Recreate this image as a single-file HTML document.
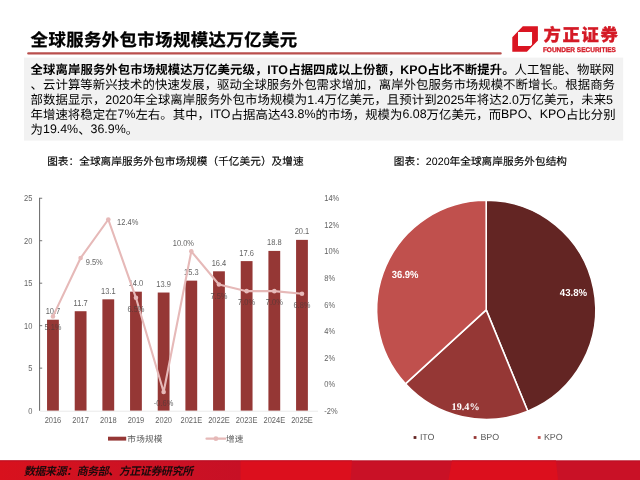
<!DOCTYPE html>
<html lang="zh-CN">
<head>
<meta charset="utf-8">
<title>全球服务外包市场规模达万亿美元</title>
<style>
html,body{margin:0;padding:0;background:#fff;}
body{width:640px;height:480px;overflow:hidden;position:relative;font-family:"Liberation Sans",sans-serif;}
svg{position:absolute;left:0;top:0;display:block;font-family:"Liberation Sans",sans-serif;will-change:transform;}
text{text-rendering:geometricPrecision;}
</style>
</head>
<body>
<svg width="640" height="480" viewBox="0 0 640 480">
<title>全球服务外包市场规模达万亿美元</title>
<desc>全球离岸服务外包市场规模达万亿美元级，ITO占据四成以上份额，KPO占比不断提升。人工智能、物联网、云计算等新兴技术的快速发展，驱动全球服务外包需求增加，离岸外包服务市场规模不断增长。根据商务部数据显示，2020年全球离岸服务外包市场规模为1.4万亿美元，且预计到2025年将达2.0万亿美元，未来5年增速将稳定在7%左右。其中，ITO占据高达43.8%的市场，规模为6.08万亿美元，而BPO、KPO占比分别为19.4%、36.9%。 图表：全球离岸服务外包市场规模（千亿美元）及增速 图表：2020年全球离岸服务外包结构 市场规模 增速 数据来源：商务部、方正证券研究所 方正证券</desc>
<defs>
<linearGradient id="fg" gradientUnits="userSpaceOnUse" x1="0" y1="0" x2="240" y2="0"><stop offset="0" stop-color="#d8111d"/><stop offset="0.45" stop-color="#cf1222"/><stop offset="1" stop-color="#c71025"/></linearGradient>
</defs>
<!-- frame: title rule, text panel, logo mark, footer band -->
<rect x="24" y="57.6" width="599.2" height="83" fill="#f2f2f2"/>
<path d="M28.3 53.4H500.6" stroke="#b94f4d" stroke-width="2.3" stroke-linecap="round"/>
<path d="M522.8 26.3H537.9V40.6L526.9 51.7H512.3V37.3Z M518 32V46.05H530.6L532.05 44.6V32Z" fill="#da1522" fill-rule="evenodd"/>
<text x="542.9" y="51.8" font-size="6.8" font-weight="bold" fill="#d41a26" stroke="#d41a26" stroke-width="0.3" textLength="73" lengthAdjust="spacingAndGlyphs">FOUNDER SECURITIES</text>
<rect x="0" y="460.4" width="640" height="19.6" fill="#c91126"/>
<path d="M0 460.4H240.6V480H0Z" fill="url(#fg)"/>
<path d="M240.6 460.4H352L350.5 480H240.6Z M452 460.4H556L558 480H448.5Z" fill="#dc0f1d"/>
<path d="M0 460.9H640" stroke="#a8142a" stroke-opacity=".55" stroke-width="0.9"/>
<!-- left chart: bars + growth line -->
<g font-size="8.6" fill="#636363">
<path d="M39.6 197.8V410.8" stroke="#666" stroke-width="1" fill="none"/>
<path d="M40.1 411.2H318" stroke="#e8e8e8" stroke-width="0.9" fill="none"/>
<text transform="translate(32.3 413.7) scale(0.87 1)" text-anchor="end">0</text>
<path d="M39.6 368.13h2.6" stroke="#666" stroke-width="0.9"/>
<text transform="translate(32.3 371.23) scale(0.87 1)" text-anchor="end">5</text>
<path d="M39.6 325.66h2.6" stroke="#666" stroke-width="0.9"/>
<text transform="translate(32.3 328.76) scale(0.87 1)" text-anchor="end">10</text>
<path d="M39.6 283.19h2.6" stroke="#666" stroke-width="0.9"/>
<text transform="translate(32.3 286.29) scale(0.87 1)" text-anchor="end">15</text>
<path d="M39.6 240.72h2.6" stroke="#666" stroke-width="0.9"/>
<text transform="translate(32.3 243.82) scale(0.87 1)" text-anchor="end">20</text>
<path d="M39.6 198.25h2.6" stroke="#666" stroke-width="0.9"/>
<text transform="translate(32.3 201.35) scale(0.87 1)" text-anchor="end">25</text>
<text transform="translate(324.3 413.7) scale(0.87 1)">-2%</text>
<text transform="translate(324.3 387.16) scale(0.87 1)">0%</text>
<text transform="translate(324.3 360.62) scale(0.87 1)">2%</text>
<text transform="translate(324.3 334.08) scale(0.87 1)">4%</text>
<text transform="translate(324.3 307.54) scale(0.87 1)">6%</text>
<text transform="translate(324.3 281) scale(0.87 1)">8%</text>
<text transform="translate(324.3 254.46) scale(0.87 1)">10%</text>
<text transform="translate(324.3 227.92) scale(0.87 1)">12%</text>
<text transform="translate(324.3 201.38) scale(0.87 1)">14%</text>
<rect x="47.05" y="319.71" width="11.8" height="90.89" fill="#953735"/>
<text transform="translate(52.95 314.21) scale(0.87 1)" text-anchor="middle">10.7</text>
<text transform="translate(52.95 423.2) scale(0.87 1)" text-anchor="middle">2016</text>
<rect x="74.72" y="311.22" width="11.8" height="99.38" fill="#953735"/>
<text transform="translate(80.62 305.72) scale(0.87 1)" text-anchor="middle">11.7</text>
<text transform="translate(80.62 423.2) scale(0.87 1)" text-anchor="middle">2017</text>
<rect x="102.39" y="299.33" width="11.8" height="111.27" fill="#953735"/>
<text transform="translate(108.29 293.83) scale(0.87 1)" text-anchor="middle">13.1</text>
<text transform="translate(108.29 423.2) scale(0.87 1)" text-anchor="middle">2018</text>
<rect x="130.06" y="291.68" width="11.8" height="118.92" fill="#953735"/>
<text transform="translate(135.96 286.18) scale(0.87 1)" text-anchor="middle">14.0</text>
<text transform="translate(135.96 423.2) scale(0.87 1)" text-anchor="middle">2019</text>
<rect x="157.73" y="292.53" width="11.8" height="118.07" fill="#953735"/>
<text transform="translate(163.63 287.03) scale(0.87 1)" text-anchor="middle">13.9</text>
<text transform="translate(163.63 423.2) scale(0.87 1)" text-anchor="middle">2020</text>
<rect x="185.4" y="280.64" width="11.8" height="129.96" fill="#953735"/>
<text transform="translate(191.3 275.14) scale(0.87 1)" text-anchor="middle">15.3</text>
<text transform="translate(191.3 423.2) scale(0.87 1)" text-anchor="middle">2021E</text>
<rect x="213.07" y="271.3" width="11.8" height="139.3" fill="#953735"/>
<text transform="translate(218.97 265.8) scale(0.87 1)" text-anchor="middle">16.4</text>
<text transform="translate(218.97 423.2) scale(0.87 1)" text-anchor="middle">2022E</text>
<rect x="240.74" y="261.11" width="11.8" height="149.49" fill="#953735"/>
<text transform="translate(246.64 255.61) scale(0.87 1)" text-anchor="middle">17.6</text>
<text transform="translate(246.64 423.2) scale(0.87 1)" text-anchor="middle">2023E</text>
<rect x="268.41" y="250.91" width="11.8" height="159.69" fill="#953735"/>
<text transform="translate(274.31 245.41) scale(0.87 1)" text-anchor="middle">18.8</text>
<text transform="translate(274.31 423.2) scale(0.87 1)" text-anchor="middle">2024E</text>
<rect x="296.08" y="239.87" width="11.8" height="170.73" fill="#953735"/>
<text transform="translate(301.98 234.37) scale(0.87 1)" text-anchor="middle">20.1</text>
<text transform="translate(301.98 423.2) scale(0.87 1)" text-anchor="middle">2025E</text>
<polyline points="52.95,316.38 80.62,258 108.29,219.51 135.96,297.81 163.63,392.02 191.3,251.36 218.97,284.54 246.64,291.17 274.31,291.17 301.98,293.82" fill="none" stroke="#e6b9b8" stroke-width="2.1" stroke-linejoin="round" stroke-linecap="round"/>
<circle cx="52.95" cy="316.38" r="2.3" fill="#e6b9b8"/>
<circle cx="80.62" cy="258" r="2.3" fill="#e6b9b8"/>
<circle cx="108.29" cy="219.51" r="2.3" fill="#e6b9b8"/>
<circle cx="135.96" cy="297.81" r="2.3" fill="#e6b9b8"/>
<circle cx="163.63" cy="392.02" r="2.3" fill="#e6b9b8"/>
<circle cx="191.3" cy="251.36" r="2.3" fill="#e6b9b8"/>
<circle cx="218.97" cy="284.54" r="2.3" fill="#e6b9b8"/>
<circle cx="246.64" cy="291.17" r="2.3" fill="#e6b9b8"/>
<circle cx="274.31" cy="291.17" r="2.3" fill="#e6b9b8"/>
<circle cx="301.98" cy="293.82" r="2.3" fill="#e6b9b8"/>
<g style="mix-blend-mode:darken">
<text transform="translate(52.95 330.38) scale(0.87 1)" text-anchor="middle">5.1%</text>
<text transform="translate(85.72 264.89) scale(0.87 1)">9.5%</text>
<text transform="translate(117.09 224.71) scale(0.87 1)">12.4%</text>
<text transform="translate(135.96 311.81) scale(0.87 1)" text-anchor="middle">6.5%</text>
<text transform="translate(163.63 406.02) scale(0.87 1)" text-anchor="middle">-0.6%</text>
<text transform="translate(183.4 245.56) scale(0.87 1)" text-anchor="middle">10.0%</text>
<text transform="translate(218.97 298.54) scale(0.87 1)" text-anchor="middle">7.5%</text>
<text transform="translate(246.64 305.17) scale(0.87 1)" text-anchor="middle">7.0%</text>
<text transform="translate(274.31 305.17) scale(0.87 1)" text-anchor="middle">7.0%</text>
<text transform="translate(301.98 307.82) scale(0.87 1)" text-anchor="middle">6.8%</text>
</g>
<rect x="108" y="436.7" width="18.2" height="3.9" fill="#953735"/>
<path d="M206.5 438.7H225.3" stroke="#e6b9b8" stroke-width="2.2" stroke-linecap="round"/>
<circle cx="215.9" cy="438.7" r="2.4" fill="#e6b9b8"/>
</g>
<!-- pie chart -->
<path d="M486.2 309.85L486.2 200.3A109.55 109.55 0 0 1 527.8 411.19Z" fill="#632523" stroke="#fff" stroke-width="1.6" stroke-linejoin="round"/>
<path d="M486.2 309.85L527.8 411.19A109.55 109.55 0 0 1 405.41 383.83Z" fill="#953735" stroke="#fff" stroke-width="1.6" stroke-linejoin="round"/>
<path d="M486.2 309.85L405.41 383.83A109.55 109.55 0 0 1 486.2 200.3Z" fill="#c0504d" stroke="#fff" stroke-width="1.6" stroke-linejoin="round"/>
<g font-size="9.6" font-weight="bold" fill="#fff">
<text x="559.8" y="296.4" font-size="10.1" textLength="27.3" lengthAdjust="spacingAndGlyphs">43.8%</text>
<text x="391.7" y="278.4" font-size="10.3" textLength="26.8" lengthAdjust="spacingAndGlyphs">36.9%</text>
<text x="451.6" y="410" font-family="'Liberation Serif',serif" font-size="10.2">19.4%</text>
</g>
<g font-size="8.9" fill="#595959">
<rect x="413.6" y="436.1" width="2.8" height="2.8" fill="#632523"/>
<text x="419.9" y="439.8">ITO</text>
<rect x="473.7" y="436.1" width="2.8" height="2.8" fill="#953735"/>
<text x="480.4" y="439.8">BPO</text>
<rect x="537.8" y="436.1" width="2.8" height="2.8" fill="#c0504d"/>
<text x="543.9" y="439.8">KPO</text>
</g>
<!-- text lines -->
<g transform="translate(30.6,46.1)" fill="#000" font-family="'Liberation Sans','Noto Sans CJK SC',sans-serif">
<text x="0" y="0" font-size="17.35" font-weight="bold" stroke="#000" stroke-width="0.3" textLength="266.5">全球服务外包市场规模达万亿美元</text>
</g>
<g transform="translate(30.6,74.4)" fill="#000" font-family="'Liberation Sans','Noto Sans CJK SC',sans-serif">
<text x="0" y="0" font-size="12.4" font-weight="bold" textLength="236.7">全球离岸服务外包市场规模达万亿美元级，</text>
<text x="236.73" y="-0.5" font-size="12.4" font-weight="bold" letter-spacing="0.06">ITO</text>
<text x="257.57" y="0" font-size="12.4" font-weight="bold" textLength="112.1">占据四成以上份额，</text>
<text x="369.71" y="-0.5" font-size="12.4" font-weight="bold" letter-spacing="0.06">KPO</text>
<text x="396.78" y="0" font-size="12.4" font-weight="bold" textLength="87.2">占比不断提升。</text>
<text x="483.97" y="0" font-size="12.4" textLength="99.7">人工智能、物联网</text>
</g>
<g transform="translate(30.6,89.2)" fill="#000" font-family="'Liberation Sans','Noto Sans CJK SC',sans-serif">
<text x="0" y="0" font-size="12.4" textLength="584.4">、云计算等新兴技术的快速发展，驱动全球服务外包需求增加，离岸外包服务市场规模不断增长。根据商务</text>
</g>
<g transform="translate(30.6,104)" fill="#000" font-family="'Liberation Sans','Noto Sans CJK SC',sans-serif">
<text x="0" y="0" font-size="12.4" textLength="74.7">部数据显示，</text>
<text x="74.66" y="-0.5" font-size="12.4" letter-spacing="0.04">2020</text>
<text x="102.4" y="0" font-size="12.4" textLength="174.2">年全球离岸服务外包市场规模为</text>
<text x="276.61" y="-0.5" font-size="12.4" letter-spacing="0.04">1.4</text>
<text x="293.98" y="0" font-size="12.4" textLength="112">万亿美元，且预计到</text>
<text x="405.96" y="-0.5" font-size="12.4" letter-spacing="0.04">2025</text>
<text x="433.7" y="0" font-size="12.4" textLength="37.3">年将达</text>
<text x="471.04" y="-0.5" font-size="12.4" letter-spacing="0.04">2.0</text>
<text x="488.41" y="0" font-size="12.4" textLength="87.1">万亿美元，未来</text>
<text x="575.5" y="-0.5" font-size="12.4" letter-spacing="0.04">5</text>
</g>
<g transform="translate(30.6,118.8)" fill="#000" font-family="'Liberation Sans','Noto Sans CJK SC',sans-serif">
<text x="0" y="0" font-size="12.4" textLength="86.9">年增速将稳定在</text>
<text x="86.9" y="-0.5" font-size="12.4" letter-spacing="0.01">7%</text>
<text x="104.85" y="0" font-size="12.4" textLength="74.5">左右。其中，</text>
<text x="179.33" y="-0.5" font-size="12.4" letter-spacing="0.01">ITO</text>
<text x="200.04" y="0" font-size="12.4" textLength="49.65">占据高达</text>
<text x="249.69" y="-0.5" font-size="12.4" letter-spacing="0.01">43.8%</text>
<text x="284.93" y="0" font-size="12.4" textLength="86.9">的市场，规模为</text>
<text x="371.82" y="-0.5" font-size="12.4" letter-spacing="0.01">6.08</text>
<text x="396" y="0" font-size="12.4" textLength="74.5">万亿美元，而</text>
<text x="470.49" y="-0.5" font-size="12.4" letter-spacing="0.01">BPO</text>
<text x="496.72" y="0" font-size="12.4">、</text>
<text x="509.13" y="-0.5" font-size="12.4" letter-spacing="0.01">KPO</text>
<text x="535.36" y="0" font-size="12.4" textLength="49.65">占比分别</text>
</g>
<g transform="translate(30.6,133.6)" fill="#000" font-family="'Liberation Sans','Noto Sans CJK SC',sans-serif">
<text x="0" y="0" font-size="12.4">为</text>
<text x="12.4" y="-0.5" font-size="12.4">19.4%</text>
<text x="47.57" y="0" font-size="12.4">、</text>
<text x="59.96" y="-0.5" font-size="12.4">36.9%</text>
<text x="95.1" y="0" font-size="12.4">。</text>
</g>
<g transform="translate(47.2,165)" fill="#000" font-family="'Liberation Sans','Noto Sans CJK SC',sans-serif">
<text x="0" y="0" font-size="10.65" stroke="#000" stroke-width="0.15" textLength="256.4">图表：全球离岸服务外包市场规模（千亿美元）及增速</text>
</g>
<g transform="translate(393.8,164.6)" fill="#000" font-family="'Liberation Sans','Noto Sans CJK SC',sans-serif">
<text x="0" y="0" font-size="10.65" stroke="#000" stroke-width="0.15" textLength="32">图表：</text>
<text x="32.02" y="0" font-size="10.65" letter-spacing="0.02">2020</text>
<text x="55.8" y="0" font-size="10.65" stroke="#000" stroke-width="0.15" textLength="117.4">年全球离岸服务外包结构</text>
</g>
<g transform="translate(127.3,442)" fill="#595959" font-family="'Liberation Sans','Noto Sans CJK SC',sans-serif">
<text x="0" y="0" font-size="8.6" textLength="35.1">市场规模</text>
</g>
<g transform="translate(226,442)" fill="#595959" font-family="'Liberation Sans','Noto Sans CJK SC',sans-serif">
<text x="0" y="0" font-size="8.6" textLength="17.4">增速</text>
</g>
<g transform="translate(24,474.6) skewX(-12)" fill="#1c0a0c" font-family="'Liberation Sans','Noto Sans CJK SC',sans-serif">
<text x="0" y="0" font-size="11" font-weight="bold" textLength="169.2">数据来源：商务部、方正证券研究所</text>
</g>
<g transform="translate(543.5,41.2)" fill="#d41a26" font-family="'Liberation Sans','Noto Sans CJK SC',sans-serif">
<text x="0" y="0" font-size="17.3" font-weight="900" stroke="#d41a26" stroke-width="0.3" textLength="74.2">方正证券</text>
</g>
</svg>
</body>
</html>
